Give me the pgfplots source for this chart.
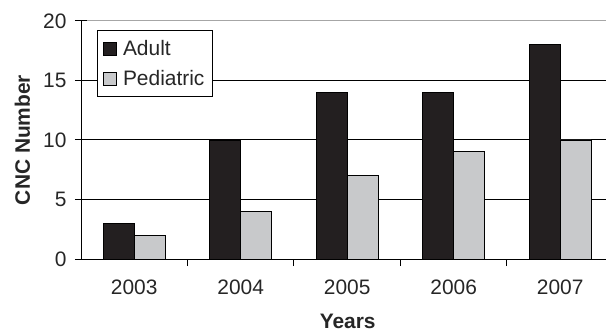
\documentclass[border=0pt]{standalone}
\usepackage{fontspec}
\setmainfont{Liberation Sans}
\usepackage{pgfplots}
\pgfplotsset{compat=1.18}
\definecolor{adult}{HTML}{231F20}
\definecolor{ped}{HTML}{C8C9CB}
\begin{document}
\begin{tikzpicture}
\path[use as bounding box] (0,0) rectangle (606bp,334bp);
\begin{axis}[
  at={(81bp,75bp)}, anchor=south west,
  scale only axis, width=525bp, height=238bp,
  xmin=-0.5, xmax=4.43, ymin=0, ymax=20,
  ybar=0pt, bar width=31bp,
  axis x line*=bottom, axis y line*=left,
  axis line style={black, line width=1bp, -},
  xtick={0,1,2,3,4},
  xticklabels={2003,2004,2005,2006,2007},
  major x tick style={draw=none},
  minor xtick={0.5,1.5,2.5,3.5},
  minor x tick style={black, line width=1bp},
  minor tick length=7bp,
  xtick align=outside,
  ytick={0,5,10,15},
  extra y ticks={20},
  extra y tick style={grid style={gray!70, line width=1bp}},
  ytick align=center,
  major tick length=12bp,
  y tick style={black, line width=1bp},
  ymajorgrids,
  grid style={black, line width=1bp},
  /pgf/number format/assume math mode=true,
  tick label style={font=\fontsize{21}{24}\selectfont, text=black!85},
  xticklabel style={yshift=-5bp},
  yticklabel style={xshift=-5bp},
  xlabel={Years},
  ylabel={CNC Number},
  label style={font=\fontsize{21}{24}\selectfont\bfseries, text=black!85},
  xlabel style={at={(axis description cs:0.508,0)}, anchor=north, yshift=-52bp},
  ylabel style={at={(axis description cs:-0.1114,0.5)}, rotate=0, anchor=center},
  legend cell align=left,
  legend image code/.code={\draw[#1, line width=0.8bp] (0bp,-6.5bp) rectangle (13bp,6.5bp); \path (17bp,0bp);},
  legend style={at={(0.03,0.962)}, anchor=north west, draw=black, line width=1bp, fill=white,
    font=\fontsize{21}{24}\selectfont, text=black!85, row sep=9bp, inner xsep=6bp, inner ysep=8bp},
]
\addplot[draw=black, line width=0.8bp, fill=adult] coordinates {(0,3) (1,10) (2,14) (3,14) (4,18)};
\addplot[draw=black, line width=0.8bp, fill=ped] coordinates {(0,2) (1,4) (2,7) (3,9) (4,10)};
\legend{Adult, Pediatric}
\end{axis}
\end{tikzpicture}
\end{document}
